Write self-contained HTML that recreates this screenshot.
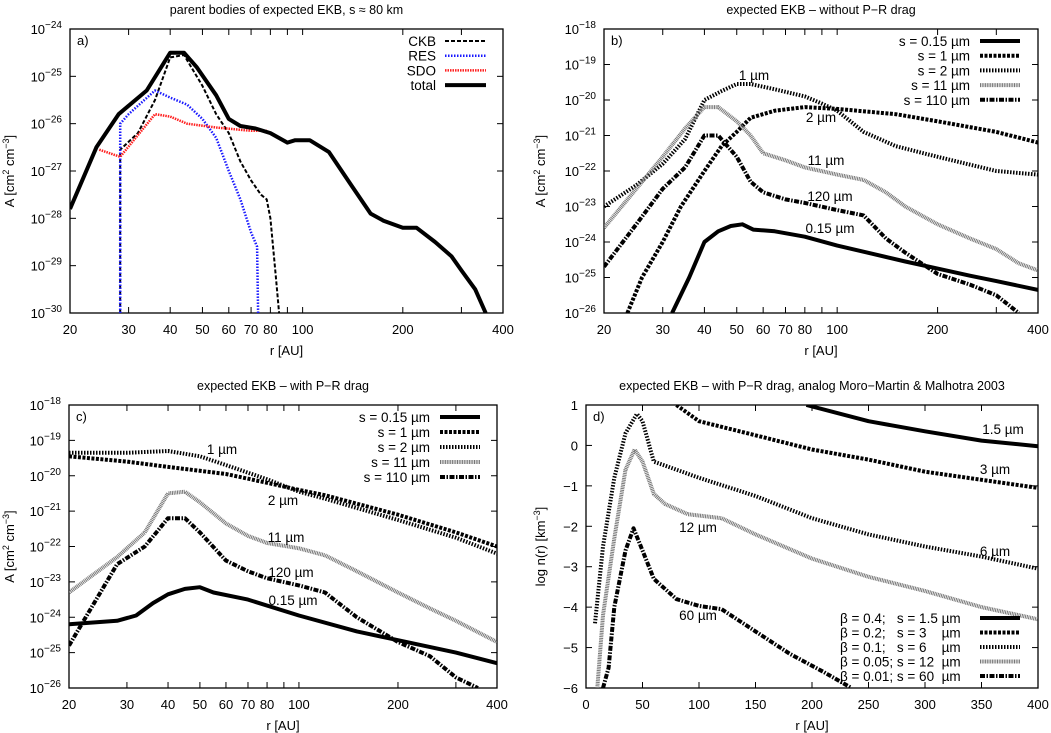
<!DOCTYPE html>
<html><head><meta charset="utf-8"><style>
body{margin:0;background:#fff}
svg{display:block;font-family:"Liberation Sans",sans-serif;}
</style></head><body>
<svg id="fig" width="1051" height="733" viewBox="0 0 1051 733" xmlns="http://www.w3.org/2000/svg"></svg>
<script>
// ---- data (log10 values) ----
// panel a
const aTotalR=[20,24,28,34,40,44,48,55,60,65,72,80,90,95,105,120,140,160,175,200,220,250,280,300,330,355];
const aTotalV=[-27.8,-26.5,-25.8,-25.3,-24.5,-24.5,-24.8,-25.4,-25.9,-26.05,-26.1,-26.2,-26.4,-26.35,-26.35,-26.6,-27.3,-27.9,-28.05,-28.2,-28.2,-28.5,-28.8,-29.1,-29.5,-30];
const aCkbR=[28.3,28.3,32,36,40,44,50,55,60,65,70,75,78,80,83,85];
const aCkbV=[-30,-26.55,-26.2,-25.5,-24.6,-24.55,-25.2,-25.8,-26.2,-26.8,-27.2,-27.5,-27.6,-28.0,-29.2,-30];
const aResR=[28.3,28.3,30,36,40,45,50,55,60,65,70,73,73.5];
const aResV=[-30,-26.0,-25.8,-25.3,-25.45,-25.6,-25.9,-26.3,-27.0,-27.6,-28.3,-28.6,-30];
const aSdoR=[24.5,28.3,36,40,45,55,70,78];
const aSdoV=[-26.55,-26.7,-25.8,-25.85,-26.0,-26.08,-26.15,-26.15];
// panel b
const bS015R=[32,36,40,44,48,52,56,65,80,100,130,160,200,250,300,400];
const bS015V=[-26,-25,-24,-23.7,-23.55,-23.5,-23.65,-23.7,-23.85,-24.1,-24.35,-24.55,-24.75,-24.95,-25.1,-25.35];
const bS1R=[23.5,26,30,34,40,45,50,55,65,80,100,150,200,300,400];
const bS1V=[-26,-25,-24,-23,-22,-21.3,-20.9,-20.5,-20.3,-20.2,-20.25,-20.4,-20.6,-20.9,-21.2];
const bS2R=[20,25,30,35,40,45,50,55,65,80,90,100,120,150,200,300,400];
const bS2V=[-23,-22.4,-21.8,-21.1,-20,-19.75,-19.55,-19.55,-19.7,-19.9,-20.1,-20.3,-20.9,-21.3,-21.6,-22,-22.1];
const bS11R=[20,25,30,35,40,44,50,55,60,70,80,100,120,140,160,200,250,300,350,400];
const bS11V=[-23.6,-22.5,-21.6,-20.8,-20.2,-20.2,-20.6,-21,-21.5,-21.7,-21.9,-22.1,-22.25,-22.6,-23,-23.5,-23.9,-24.2,-24.6,-24.8];
const bS110R=[20,25,30,35,40,44,50,55,60,70,80,100,120,140,160,200,250,300,350];
const bS110V=[-24.7,-23.5,-22.5,-21.9,-21,-21,-21.6,-22.3,-22.6,-22.8,-22.9,-23.1,-23.25,-23.9,-24.3,-24.9,-25.2,-25.5,-26];
// panel c
const cS015R=[20,28,32,36,40,45,50,55,70,100,150,200,300,400];
const cS015V=[-24.2,-24.1,-23.95,-23.6,-23.35,-23.2,-23.15,-23.3,-23.5,-23.95,-24.4,-24.65,-25,-25.3];
const cS1R=[20,30,40,60,80,100,120,200,300,400];
const cS1V=[-19.45,-19.6,-19.75,-19.95,-20.2,-20.4,-20.55,-21.1,-21.6,-22];
const cS2R=[20,30,40,50,60,80,100,120,200,300,400];
const cS2V=[-19.35,-19.35,-19.3,-19.45,-19.7,-20.1,-20.45,-20.65,-21.25,-21.75,-22.2];
const cS11R=[20,28,34,40,45,50,60,70,80,100,120,150,200,250,300,400];
const cS11V=[-23.3,-22.3,-21.6,-20.5,-20.45,-20.75,-21.35,-21.7,-21.9,-22.05,-22.25,-22.7,-23.3,-23.75,-24.1,-24.7];
const cS110R=[20,28,34,40,45,50,60,70,80,100,120,150,200,250,300,350];
const cS110V=[-24.8,-22.5,-22,-21.2,-21.2,-21.6,-22.4,-22.7,-22.9,-23.1,-23.3,-24,-24.7,-25.1,-25.7,-26];
// panel d
const dS15R=[195,250,300,350,400];
const dS15V=[1,0.6,0.35,0.12,-0.02];
const dS3R=[80,100,150,200,250,300,350,400];
const dS3V=[1,0.6,0.25,-0.1,-0.35,-0.65,-0.85,-1.05];
const dS6R=[8,15,25,35,45,50,60,70,100,150,200,250,300,350,400];
const dS6V=[-4.4,-2.5,-0.8,0.3,0.78,0.6,-0.4,-0.5,-0.8,-1.25,-1.8,-2.2,-2.5,-2.75,-3.05];
const dS12R=[10,15,25,35,43,50,60,70,90,120,150,200,250,300,350,400];
const dS12V=[-6,-4.2,-2.3,-0.6,-0.1,-0.4,-1.2,-1.45,-1.7,-1.8,-2.2,-2.8,-3.25,-3.6,-4,-4.3];
const dS60R=[15,20,25,35,42,50,60,80,100,120,150,180,210,235];
const dS60V=[-6,-5.5,-4,-2.6,-2.05,-2.6,-3.3,-3.8,-3.97,-4.05,-4.6,-5.15,-5.6,-6];
const logXTicks=[20,30,40,50,60,70,80,100,200,400];
const linXTicks=[0,50,100,150,200,250,300,350,400];

const NS="http://www.w3.org/2000/svg";
const svg=document.getElementById('fig');
function mk(tag,attrs,parent){const e=document.createElementNS(NS,tag);for(const k in attrs)e.setAttribute(k,attrs[k]);(parent||svg).appendChild(e);return e;}

const styles={
 total:{stroke:'#000','stroke-width':4},
 ckb:{stroke:'#000','stroke-width':2,'stroke-dasharray':'4,2'},
 res:{stroke:'#1a1aff','stroke-width':2.5,'stroke-dasharray':'1.5,1.5'},
 sdo:{stroke:'#ff2020','stroke-width':2.5,'stroke-dasharray':'1.5,1'},
 s015:{stroke:'#000','stroke-width':4},
 s1:{stroke:'#000','stroke-width':4,'stroke-dasharray':'3,1.5'},
 s2:{stroke:'#000','stroke-width':4,'stroke-dasharray':'1.5,1.5'},
 s11:{stroke:'#777','stroke-width':4,'stroke-dasharray':'1,0.7'},
 s110:{stroke:'#000','stroke-width':4,'stroke-dasharray':'5,1.5,1.5,1.5'}
};

function panel(p){
 const g=mk('g',{});
 
 
 const X=p.log?(r=>p.x0+(Math.log10(r)-Math.log10(p.xmin))/(Math.log10(p.xmax)-Math.log10(p.xmin))*(p.x1-p.x0)):(r=>p.x0+(r-p.xmin)/(p.xmax-p.xmin)*(p.x1-p.x0));
 const Y=v=>p.y1-(v-p.ymin)/(p.ymax-p.ymin)*(p.y1-p.y0);
 const t=mk('text',{x:(p.x0+p.x1)/2,y:p.y0-15,'text-anchor':'middle','font-size':12.5},g);t.textContent=p.title;
 
 
 const cid='clip'+p.id;
 const cp=mk('clipPath',{id:cid},g);mk('rect',{x:p.x0,y:p.y0,width:p.x1-p.x0,height:p.y1-p.y0},cp);
 const xt=p.log?logXTicks:linXTicks;
 const allx=p.log?[20,30,40,50,60,70,80,90,100,200,300,400]:xt;
 allx.forEach(r=>{const x=X(r);mk('line',{x1:x,y1:p.y1,x2:x,y2:p.y1-6,stroke:'#000','stroke-width':1},g);mk('line',{x1:x,y1:p.y0,x2:x,y2:p.y0+6,stroke:'#000','stroke-width':1},g);});
 xt.forEach(r=>{const tx=mk('text',{x:X(r),y:p.y1+21,'text-anchor':'middle','font-size':13},g);tx.textContent=r;
  
  });
 for(let v=p.ymin;v<=p.ymax;v++){const y=Y(v);
  mk('line',{x1:p.x0,y1:y,x2:p.x0+6,y2:y,stroke:'#000'},g);mk('line',{x1:p.x1,y1:y,x2:p.x1-6,y2:y,stroke:'#000'},g);
  const ty=mk('text',{x:p.x0-8,y:y+5,'text-anchor':'end','font-size':13},g);
  
  
  if(p.log){ty.textContent='10';const s=mk('tspan',{dy:-6,'font-size':10},ty);s.textContent=(v<0?'\u2212':'')+Math.abs(v);}
  else ty.textContent=(v<0?'\u2212':'')+Math.abs(v);
 }
 mk('rect',{x:p.x0,y:p.y0,width:p.x1-p.x0,height:p.y1-p.y0,fill:'none',stroke:'#000','stroke-width':1.3},g);
 const xl=mk('text',{x:(p.x0+p.x1)/2,y:p.y1+42,'text-anchor':'middle','font-size':13},g);xl.textContent='r [AU]';
 
 
 const yc=(p.y0+p.y1)/2;
 const yl=mk('text',{x:p.ylx,y:yc,'text-anchor':'middle','font-size':13,transform:`rotate(-90 ${p.ylx} ${yc})`},g);
 
 
 if(p.log){yl.appendChild(document.createTextNode('A [cm'));let s=mk('tspan',{dy:-5,'font-size':9},yl);s.textContent='2';s=mk('tspan',{dy:5},yl);s.textContent=' cm';s=mk('tspan',{dy:-5,'font-size':9},yl);s.textContent='\u22123';s=mk('tspan',{dy:5},yl);s.textContent=']';}
 else{yl.appendChild(document.createTextNode('log n(r) [km'));let s=mk('tspan',{dy:-5,'font-size':9},yl);s.textContent='\u22123';s=mk('tspan',{dy:5},yl);s.textContent=']';}
 const pl=mk('text',{x:p.x0+7,y:p.y0+16,'font-size':13},g);pl.textContent=p.id+')';
 
 
 const sg=mk('g',{'clip-path':`url(#${cid})`},g);
 p.series.forEach(s=>{
  const d=s.r.map((r,i)=>(i?'L':'M')+X(r).toFixed(1)+','+Y(s.v[i]).toFixed(1)).join('');
  const path=mk('path',Object.assign({d:d,fill:'none','stroke-linejoin':'round'},styles[s.st]),sg);
  
  
 });
 p.legend.forEach((l,i)=>{
  const y=p.legY+i*p.legDy;
  const lt=mk('text',{x:p.legTx,y:y+5,'text-anchor':p.legAnchor,'font-size':13.5},g);lt.textContent=l[0];
  
  
  mk('line',Object.assign({x1:p.legL0,y1:y,x2:p.legL1,y2:y},styles[l[1]]),g);
 });
 p.labels.forEach(l=>{const lt=mk('text',{x:l[1],y:l[2],'text-anchor':'middle','font-size':13.5},g);lt.textContent=l[0];
  
  });
}

panel({id:'a',name:'panel-a',log:true,x0:70,x1:503,y0:29,y1:313,xmin:20,xmax:400,ymin:-30,ymax:-24,ylx:14,
 title:'parent bodies of expected EKB, s \u2248 80 km',
 series:[{key:'ckb',r:aCkbR,v:aCkbV,st:'ckb'},{key:'res',r:aResR,v:aResV,st:'res'},{key:'sdo',r:aSdoR,v:aSdoV,st:'sdo'},{key:'total',r:aTotalR,v:aTotalV,st:'total'}],
 legend:[['CKB','ckb'],['RES','res'],['SDO','sdo'],['total','total']],legY:41,legDy:14.7,legTx:436,legAnchor:'end',legL0:445,legL1:486,labels:[]});
panel({id:'b',name:'panel-b',log:true,x0:604,x1:1038,y0:29,y1:313,xmin:20,xmax:400,ymin:-26,ymax:-18,ylx:545,
 title:'expected EKB \u2013 without P\u2212R drag',
 series:[{key:'s015',r:bS015R,v:bS015V,st:'s015'},{key:'s1',r:bS1R,v:bS1V,st:'s1'},{key:'s2',r:bS2R,v:bS2V,st:'s2'},{key:'s11',r:bS11R,v:bS11V,st:'s11'},{key:'s110',r:bS110R,v:bS110V,st:'s110'}],
 legend:[['s = 0.15 \u00b5m','s015'],['s = 1 \u00b5m','s1'],['s = 2 \u00b5m','s2'],['s = 11 \u00b5m','s11'],['s = 110 \u00b5m','s110']],legY:41,legDy:14.7,legTx:970,legAnchor:'end',legL0:980,legL1:1020,
 labels:[['1 \u00b5m',754,80],['2 \u00b5m',821,122],['11 \u00b5m',826,165],['120 \u00b5m',830,201],['0.15 \u00b5m',830,233]]});
panel({id:'c',name:'panel-c',log:true,x0:69,x1:497,y0:405,y1:688,xmin:20,xmax:400,ymin:-26,ymax:-18,ylx:14,
 title:'expected EKB \u2013 with P\u2212R drag',
 series:[{key:'s015',r:cS015R,v:cS015V,st:'s015'},{key:'s1',r:cS1R,v:cS1V,st:'s1'},{key:'s2',r:cS2R,v:cS2V,st:'s2'},{key:'s11',r:cS11R,v:cS11V,st:'s11'},{key:'s110',r:cS110R,v:cS110V,st:'s110'}],
 legend:[['s = 0.15 \u00b5m','s015'],['s = 1 \u00b5m','s1'],['s = 2 \u00b5m','s2'],['s = 11 \u00b5m','s11'],['s = 110 \u00b5m','s110']],legY:417,legDy:15,legTx:430,legAnchor:'end',legL0:440,legL1:480,
 labels:[['1 \u00b5m',222,454],['2 \u00b5m',283,505],['11 \u00b5m',286,542],['120 \u00b5m',291,577],['0.15 \u00b5m',293,605]]});
panel({id:'d',name:'panel-d',log:false,x0:586,x1:1038,y0:405,y1:688,xmin:0,xmax:400,ymin:-6,ymax:1,ylx:545,
 title:'expected EKB \u2013 with P\u2212R drag, analog Moro\u2212Martin & Malhotra 2003',
 series:[{key:'s15',r:dS15R,v:dS15V,st:'s015'},{key:'s3',r:dS3R,v:dS3V,st:'s1'},{key:'s6',r:dS6R,v:dS6V,st:'s2'},{key:'s12',r:dS12R,v:dS12V,st:'s11'},{key:'s60',r:dS60R,v:dS60V,st:'s110'}],
 legend:[['\u03b2 = 0.4;   s = 1.5 \u00b5m','s015'],['\u03b2 = 0.2;   s = 3    \u00b5m','s1'],['\u03b2 = 0.1;   s = 6    \u00b5m','s2'],['\u03b2 = 0.05; s = 12  \u00b5m','s11'],['\u03b2 = 0.01; s = 60  \u00b5m','s110']],legY:618,legDy:14.5,legTx:840,legAnchor:'start',legL0:980,legL1:1020,
 labels:[['1.5 \u00b5m',1003,434],['3 \u00b5m',995,474],['6 \u00b5m',995,556],['12 \u00b5m',698,532],['60 \u00b5m',698,620]]});
document.querySelectorAll('text').forEach(t=>t.style.whiteSpace='pre');
</script>
</body></html>
